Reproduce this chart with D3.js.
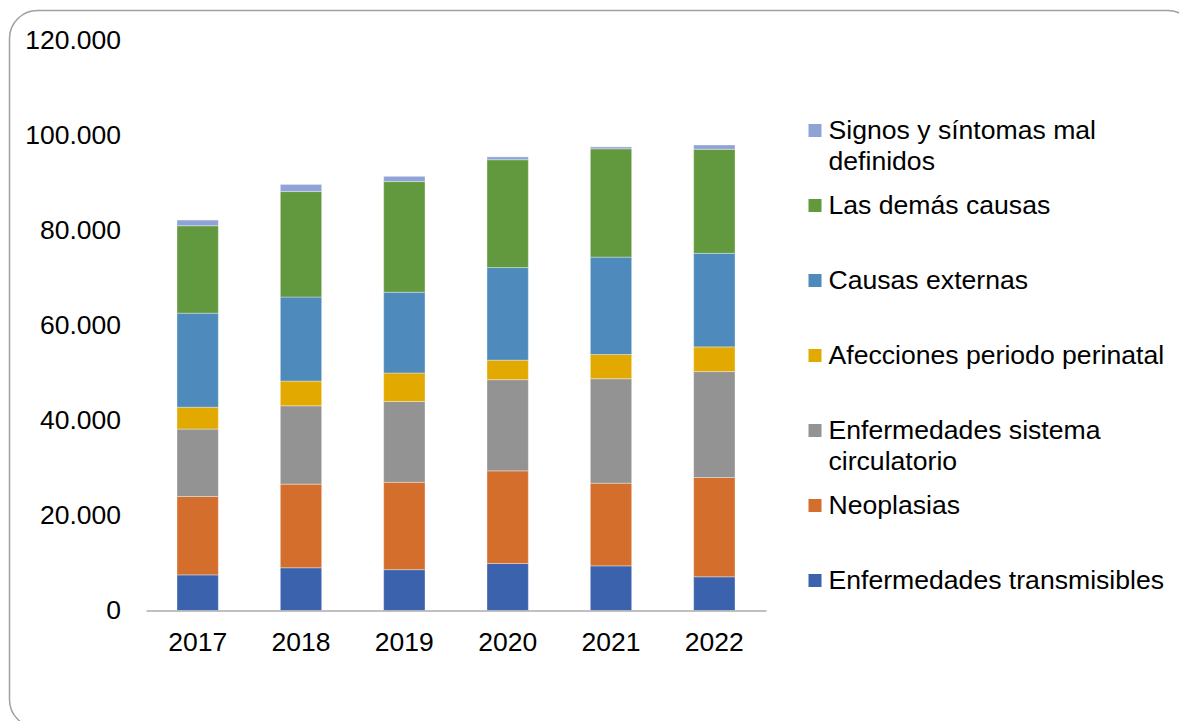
<!DOCTYPE html>
<html>
<head>
<meta charset="utf-8">
<script src="https://cdn.jsdelivr.net/npm/d3@7"></script>
<style>
  html, body { margin: 0; padding: 0; background: #ffffff; }
  svg { display: block; font-family: "Liberation Sans", Arial, sans-serif; }
</style>
</head>
<body>
<svg id="chart" width="1179" height="721"></svg>
<script>
// Defunciones por grupo de causas, 2017-2022
const years = ["2017", "2018", "2019", "2020", "2021", "2022"];

const transmisibles = [7500, 9000, 8600, 9900, 9400, 7100];
const neoplasias    = [16500, 17600, 18400, 19500, 17400, 20900];
const circulatorio  = [14200, 16500, 17000, 19200, 22000, 22300];
const perinatal     = [4600, 5200, 6000, 4100, 5100, 5200];
const externas      = [19800, 17700, 17000, 19500, 20500, 19700];
const demas         = [18400, 22200, 23300, 22700, 22800, 21900];
const signos        = [1200, 1500, 1100, 600, 400, 900];

const yTicks = [0, 20000, 40000, 60000, 80000, 100000, 120000];

// stacking order, bottom to top
const series = [
  { key: "transmisibles", name: ["Enfermedades transmisibles"], values: transmisibles, color: "#3b62ad" },
  { key: "neoplasias",    name: ["Neoplasias"],                 values: neoplasias,    color: "#d46e2c" },
  { key: "circulatorio",  name: ["Enfermedades sistema", "circulatorio"], values: circulatorio, color: "#939393" },
  { key: "perinatal",     name: ["Afecciones periodo perinatal"], values: perinatal,   color: "#e2aa00" },
  { key: "externas",      name: ["Causas externas"],            values: externas,      color: "#4f8abd" },
  { key: "demas",         name: ["Las demás causas"],           values: demas,         color: "#62993e" },
  { key: "signos",        name: ["Signos y síntomas mal", "definidos"], values: signos, color: "#8fa3d6" }
];

const rows = years.map((y, i) => {
  const r = { year: y };
  series.forEach(s => { r[s.key] = s.values[i]; });
  return r;
});

const svg = d3.select("#chart");

// rounded frame
svg.append("rect")
  .attr("x", 9.5).attr("y", 10.5)
  .attr("width", 1186).attr("height", 717)
  .attr("rx", 28).attr("ry", 28)
  .attr("fill", "#ffffff")
  .attr("stroke", "#a0a0a0")
  .attr("stroke-width", 1.5);

const x = d3.scaleBand().domain(years).range([146, 766]).paddingInner(0.6).paddingOuter(0.3);
const y = d3.scaleLinear().domain([0, 120000]).range([610.5, 40.5]);

const locale = d3.formatLocale({ decimal: ",", thousands: ".", grouping: [3], currency: ["", ""] });
const fmt = locale.format(",d");

const stack = d3.stack().keys(series.map(s => s.key));
const stacked = stack(rows);

const g = svg.append("g");
g.selectAll("g.layer")
  .data(stacked)
  .join("g")
  .attr("class", "layer")
  .attr("fill", (d, i) => series[i].color)
  .selectAll("rect")
  .data(d => d)
  .join("rect")
  .attr("x", d => x(d.data.year))
  .attr("width", x.bandwidth())
  .attr("y", d => y(d[1]))
  .attr("height", d => y(d[0]) - y(d[1]))
  .attr("stroke", "#ffffff")
  .attr("stroke-opacity", 0.35)
  .attr("stroke-width", 1);

// category axis line
const xAxis = svg.append("g")
  .attr("transform", `translate(0,${y(0)})`)
  .call(d3.axisBottom(x).tickSize(0).tickPadding(22));
xAxis.select(".domain").attr("stroke", "#ababab").attr("stroke-width", 1.6);
xAxis.selectAll("text")
  .attr("font-size", 26.5)
  .attr("fill", "#000000")
  .attr("font-family", "'Liberation Sans', Arial, sans-serif");

// value axis: labels only
const yAxis = svg.append("g")
  .attr("transform", "translate(121,0)")
  .call(d3.axisLeft(y).tickValues(yTicks).tickFormat(fmt).tickSize(0).tickPadding(0));
yAxis.select(".domain").remove();
yAxis.selectAll("text")
  .attr("font-size", 26.5)
  .attr("fill", "#000000")
  .attr("font-family", "'Liberation Sans', Arial, sans-serif");

// legend, top to bottom in reverse stacking order
const legendItems = series.slice().reverse();
const legendY = d3.scalePoint().domain(legendItems.map(s => s.key)).range([130.5, 580.5]);

const leg = svg.append("g");
const item = leg.selectAll("g")
  .data(legendItems)
  .join("g")
  .attr("transform", d => `translate(0,${legendY(d.key)})`);

item.append("rect")
  .attr("x", 808.5).attr("y", -6.5)
  .attr("width", 13).attr("height", 13)
  .attr("fill", d => d.color);

item.append("text")
  .attr("x", 828.5)
  .attr("y", 8)
  .attr("font-size", 26.6)
  .attr("fill", "#000000")
  .selectAll("tspan")
  .data(d => d.name)
  .join("tspan")
  .attr("x", 828.5)
  .attr("dy", (d, i) => i === 0 ? 0 : 31)
  .text(d => d);
</script>
</body>
</html>
